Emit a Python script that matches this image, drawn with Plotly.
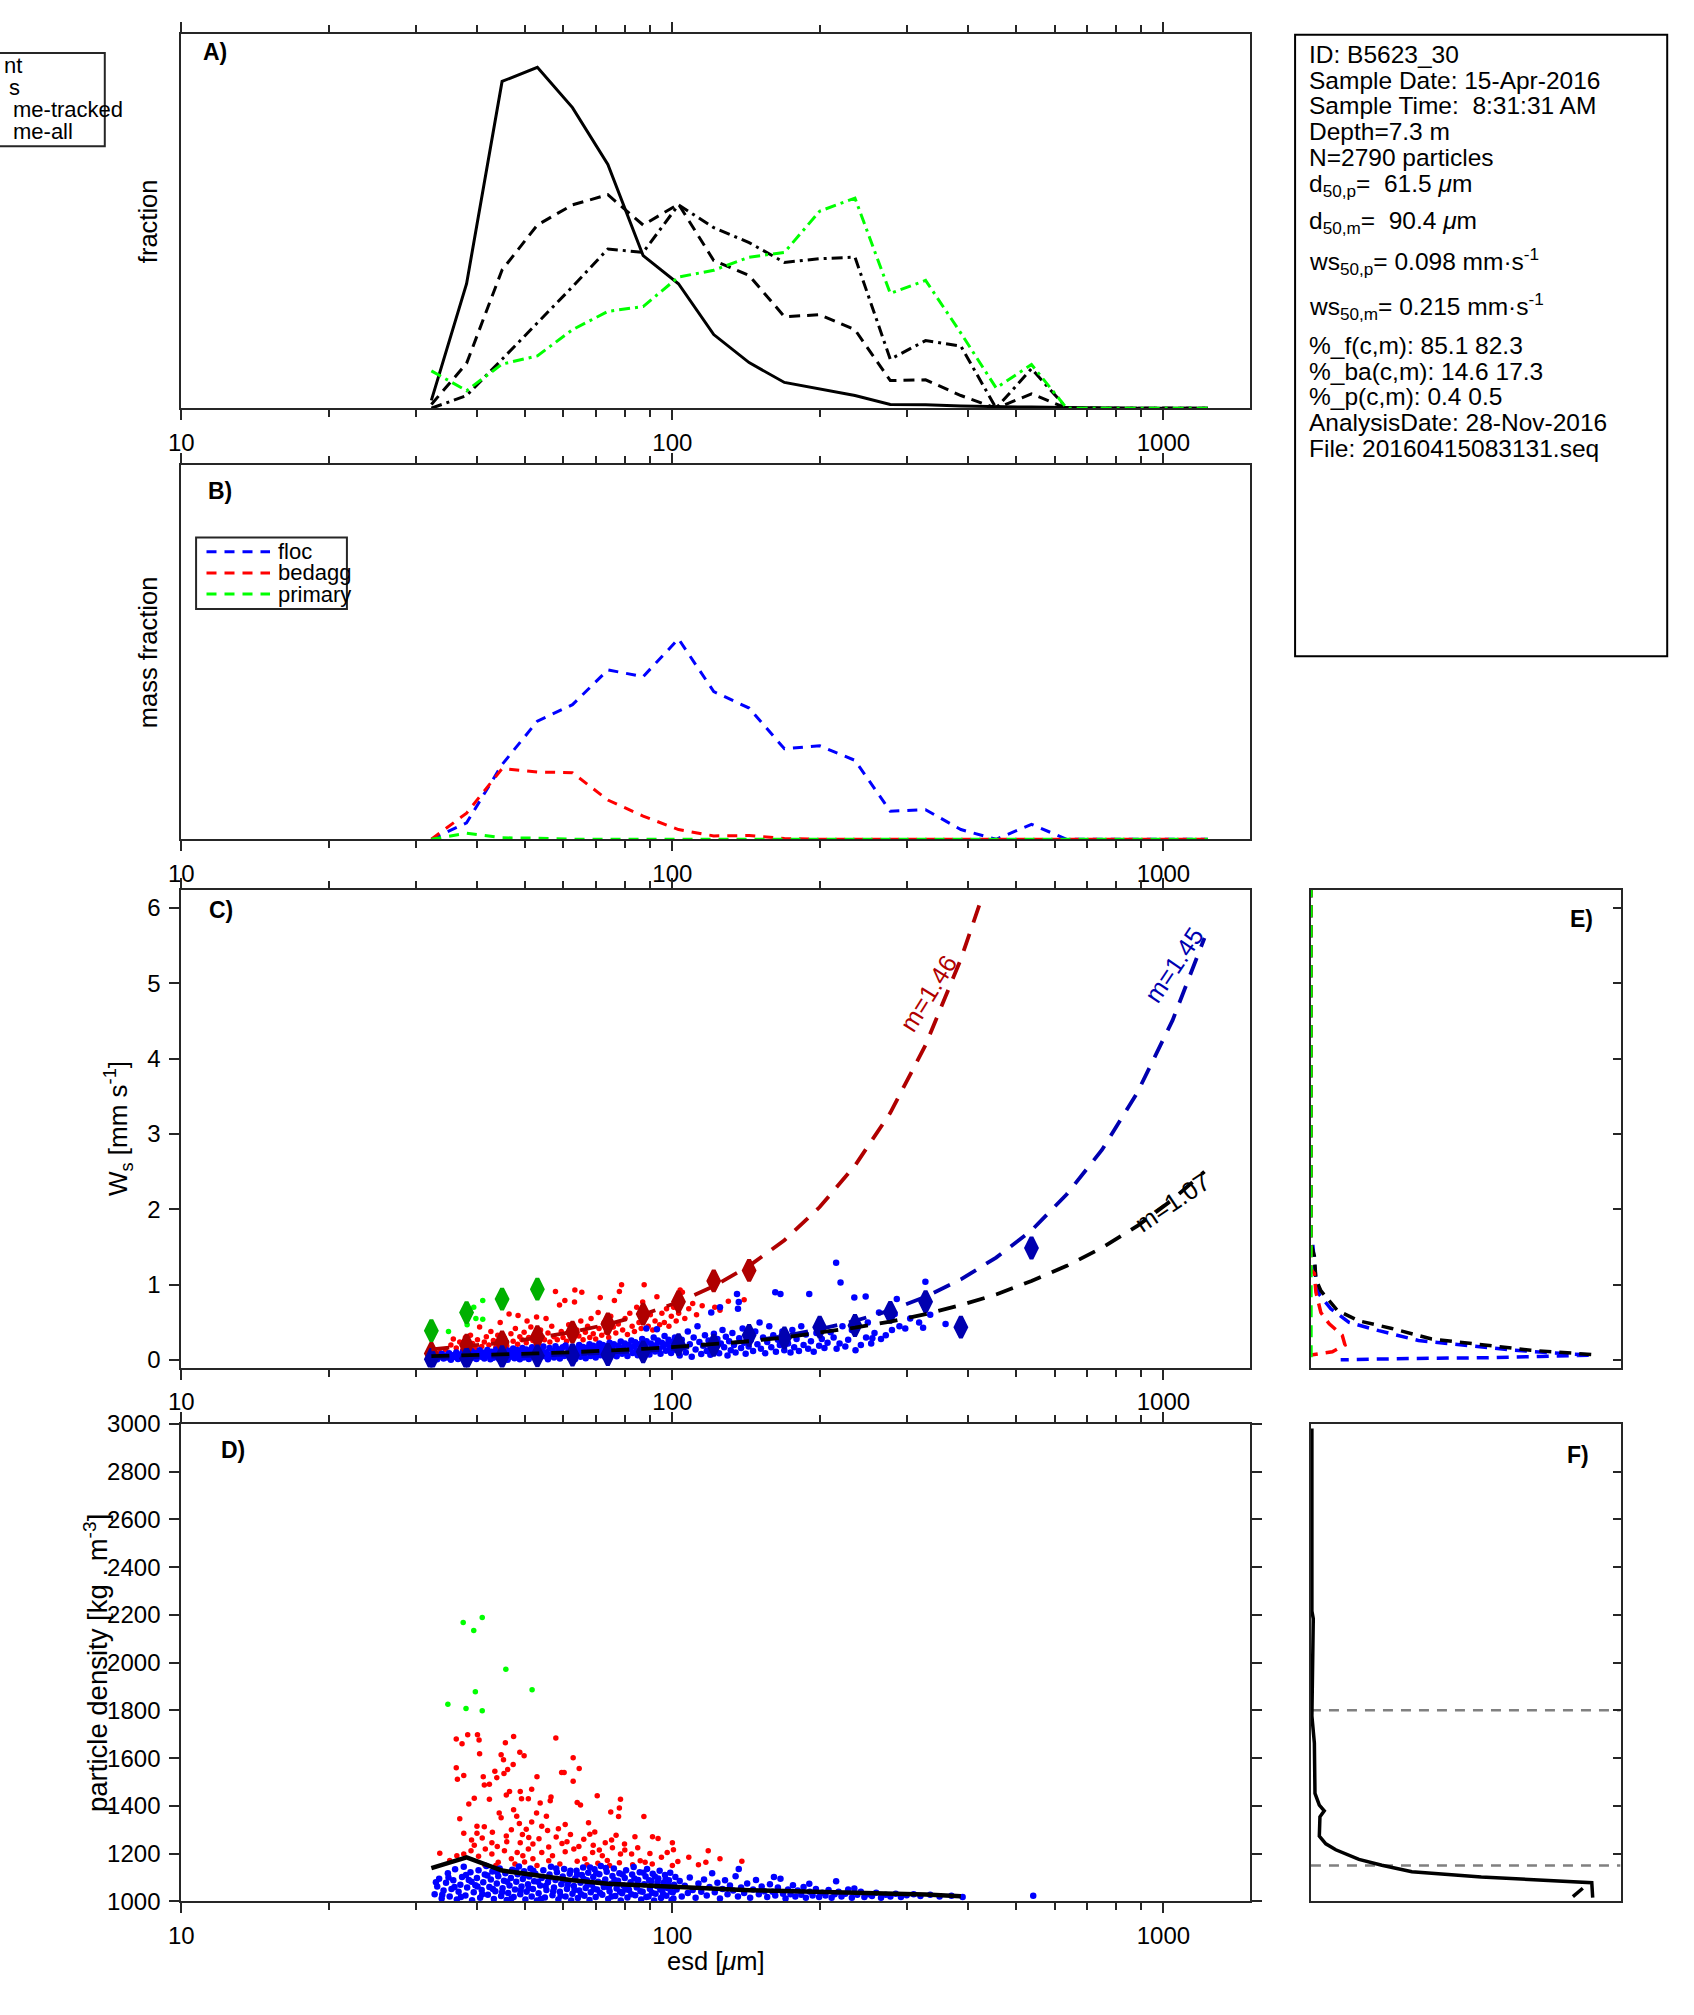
import math
import plotly.graph_objects as go

# ======================= DATA =======================
esd_bins = [32.3, 38.1, 45.0, 53.1, 62.6, 73.9, 87.2, 102.9, 121.4, 143.3, 169.1,
            199.5, 235.4, 277.8, 327.8, 386.8, 456.4, 538.6, 635.5, 749.9, 884.9, 1044.0, 1232.0]

# Panel A (fraction, relative units)
frac_count = [0.021, 0.333, 0.874, 0.912, 0.804, 0.652, 0.408, 0.333, 0.197, 0.122, 0.069,
              0.052, 0.034, 0.010, 0.0095, 0.006, 0.004, 0.003, 0.002, 0, 0, 0, 0]
frac_area = [0.01, 0.12, 0.37, 0.49, 0.544, 0.571, 0.49, 0.546, 0.395, 0.355, 0.245,
             0.25, 0.21, 0.074, 0.076, 0.034, 0.0, 0.0385, 0, 0, 0, 0, 0]
frac_vol_tracked = [0, 0.034, 0.131, 0.228, 0.325, 0.426, 0.417, 0.544, 0.483, 0.443, 0.39,
                    0.40, 0.404, 0.131, 0.181, 0.166, 0.0, 0.106, 0, 0, 0, 0, 0]
frac_vol_all = [0.1, 0.047, 0.118, 0.14, 0.21, 0.259, 0.272, 0.351, 0.369, 0.404, 0.417,
                0.527, 0.562, 0.307, 0.342, 0.201, 0.054, 0.117, 0, 0, 0, 0, 0]
legendA_labels = ["nt", "s", "me-tracked", "me-all"]

# Panel B (mass fraction, relative units)
mass_floc = [0, 0.044, 0.2, 0.316, 0.36, 0.453, 0.435, 0.536, 0.395, 0.351, 0.242,
             0.25, 0.211, 0.075, 0.079, 0.026, 0.0, 0.04, 0, 0, 0, 0, 0]
mass_bedagg = [0, 0.07, 0.189, 0.18, 0.178, 0.105, 0.062, 0.026, 0.009, 0.01, 0.002,
               0, 0, 0, 0, 0, 0, 0, 0, 0, 0, 0, 0]
mass_primary = [0, 0.016, 0.004, 0.003, 0, 0, 0, 0, 0, 0, 0,
                0, 0, 0, 0, 0, 0, 0, 0, 0, 0, 0, 0]
legendB_labels = ["floc", "bedagg", "primary"]

# Panel C: settling velocity (mm/s) of individual particles
c_floc_pts = [
    (32.5, 0.03), (32.9, 0.07), (33.2, 0.01), (33.6, 0.05), (33.9, 0.085), (34.2, 0.02), (34.5, 0.06),
    (34.8, 0.035), (35.1, 0.09), (35.4, 0.005), (35.7, 0.065), (36.0, 0.04), (36.3, 0.1), (36.6, 0.015),
    (36.9, 0.075), (37.2, 0.05), (37.5, 0.11), (37.8, 0.025), (38.1, 0.085), (38.4, 0.005), (38.7, 0.06),
    (39.0, 0.12), (39.3, 0.035), (39.6, 0.095), (39.9, 0.015), (40.2, 0.07), (40.5, 0.13), (40.8, 0.045),
    (41.1, 0.1), (41.4, 0.02), (41.7, 0.08), (42.0, 0.135), (42.3, 0.055), (42.6, 0.01), (42.9, 0.11),
    (43.2, 0.03), (43.5, 0.085), (43.8, 0.14), (44.1, 0.06), (44.4, 0.015), (44.7, 0.12), (45.0, 0.04),
    (45.3, 0.095), (45.6, 0.15), (45.9, 0.07), (46.2, 0.005), (46.5, 0.125), (46.8, 0.045), (47.1, 0.105),
    (47.4, 0.155), (47.7, 0.025), (48.0, 0.08), (48.3, 0.135), (48.6, 0.055), (48.9, 0.01), (49.2, 0.115),
    (49.5, 0.16), (49.8, 0.035), (50.1, 0.09), (50.4, 0.14), (50.7, 0.065), (51.0, 0.015), (51.4, 0.12),
    (51.8, 0.17), (52.2, 0.045), (52.6, 0.1), (53.0, 0.155), (53.4, 0.025), (53.8, 0.075), (54.2, 0.13),
    (54.6, 0.18), (55.0, 0.05), (55.4, 0.105), (55.8, 0.01), (56.2, 0.16), (56.6, 0.07), (57.0, 0.125),
    (57.4, 0.035), (57.8, 0.185), (58.2, 0.09), (58.6, 0.145), (59.0, 0.02), (59.4, 0.11), (59.8, 0.17),
    (60.2, 0.055), (60.6, 0.195), (61.0, 0.085), (61.4, 0.14), (61.8, 0.03), (62.2, 0.12), (62.6, 0.18),
    (63.0, 0.065), (63.4, 0.015), (63.8, 0.15), (64.2, 0.1), (64.6, 0.2), (65.0, 0.045), (65.4, 0.13),
    (65.8, 0.175), (66.2, 0.08), (66.6, 0.025), (67.0, 0.16), (67.4, 0.11), (67.8, 0.21), (68.2, 0.055),
    (68.6, 0.14), (69.0, 0.19), (69.4, 0.09), (69.8, 0.035), (70.2, 0.17), (70.6, 0.12), (71.0, 0.22),
    (71.4, 0.065), (71.8, 0.15), (72.2, 0.2), (72.6, 0.1), (73.0, 0.04), (73.5, 0.18), (74.0, 0.13),
    (74.5, 0.23), (75.0, 0.075), (75.5, 0.16), (76.0, 0.21), (76.5, 0.11), (77.0, 0.05), (77.5, 0.19),
    (78.0, 0.14), (78.5, 0.245), (79.0, 0.085), (79.5, 0.17), (80.0, 0.22), (80.5, 0.12), (81.0, 0.055),
    (81.5, 0.2), (82.0, 0.15), (82.5, 0.26), (83.0, 0.095), (83.5, 0.18), (84.0, 0.235), (84.5, 0.13),
    (85.0, 0.065), (85.6, 0.21), (86.2, 0.16), (86.8, 0.28), (87.4, 0.105), (88.0, 0.19), (88.5, 0.42),
    (88.6, 0.25), (89.2, 0.14), (89.8, 0.075), (90.4, 0.22), (91.0, 0.17), (91.6, 0.3), (92.2, 0.115),
    (92.8, 0.2), (93.0, 0.41), (93.4, 0.26), (94.0, 0.15), (94.6, 0.085), (95.2, 0.23), (95.8, 0.18),
    (96.4, 0.32), (97.0, 0.125), (97.6, 0.21), (98.2, 0.27), (98.8, 0.16), (99.4, 0.095), (100.0, 0.24),
    (100.6, 0.19), (101.2, 0.3), (101.8, 0.135), (102.4, 0.22),
    (103.5, 0.06), (104.5, 0.27), (105.5, 0.17), (106.5, 0.1), (107.5, 0.38), (108.5, 0.21), (109.5, 0.045),
    (110.5, 0.3), (111.5, 0.14), (112.5, 0.45), (113.5, 0.24), (114.5, 0.08), (115.5, 0.19), (116.5, 0.33),
    (117.5, 0.12), (118.5, 0.26), (119.5, 0.07), (120.0, 0.63), (120.5, 0.2), (121.5, 0.35), (122.5, 0.15),
    (123.5, 0.28), (124.5, 0.09), (125.0, 0.7), (125.5, 0.22), (126.5, 0.4), (127.5, 0.17), (128.5, 0.31),
    (129.5, 0.06), (130.5, 0.25), (131.5, 0.13), (132.5, 0.36), (133.5, 0.2), (134.5, 0.1), (135.4, 0.875),
    (136.0, 0.68), (136.5, 0.77), (136.8, 0.29), (138.0, 0.16), (139.0, 0.42), (140.0, 0.23), (141.0, 0.085),
    (142.0, 0.32), (143.0, 0.18), (144.5, 0.27), (146.0, 0.12), (147.5, 0.38), (149.0, 0.21), (150.5, 0.5),
    (151.5, 0.15), (153.0, 0.3), (154.5, 0.09), (156.0, 0.24), (157.5, 0.45), (159.0, 0.17), (160.5, 0.33),
    (162.0, 0.9), (162.5, 0.11), (164.0, 0.27), (165.5, 0.2), (166.0, 0.875), (167.5, 0.38), (169.0, 0.13),
    (170.5, 0.3), (172.0, 0.22), (174.0, 0.1), (175.5, 0.4), (177.0, 0.17), (179.0, 0.28), (181.0, 0.12),
    (183.0, 0.45), (185.0, 0.2), (187.0, 0.34), (189.0, 0.15), (190.0, 0.875), (191.5, 0.25), (194.0, 0.11),
    (196.5, 0.36), (199.0, 0.19), (201.5, 0.28),
    (204.0, 0.16), (207.0, 0.23), (210.0, 0.37), (213.0, 0.3), (215.5, 1.29), (216.0, 0.15), (219.0, 0.22),
    (220.0, 1.03), (222.0, 0.45), (225.0, 0.18), (228.0, 0.27), (232.0, 0.4), (234.7, 0.83), (236.0, 0.13),
    (238.0, 0.46), (242.0, 0.2), (247.5, 0.845), (248.0, 0.3), (250.0, 0.5), (254.0, 0.22), (255.4, 0.29),
    (258.0, 0.36), (263.5, 0.63), (266.0, 0.28), (272.0, 0.33), (280.0, 0.4), (283.6, 0.61), (286.4, 0.81),
    (290.0, 0.45), (298.0, 0.42), (305.0, 0.55), (318.0, 0.5), (324.0, 0.43), (327.5, 1.04), (335.0, 0.6),
    (360.0, 0.48), (390.0, 0.44), (543.0, 1.49),
]
c_bedagg_pts = [
    (33.6, 0.10), (34.5, 0.14), (35.4, 0.2), (35.8, 0.28), (36.3, 0.16), (36.9, 0.24), (37.4, 0.13),
    (37.9, 0.3), (38.3, 0.19), (38.8, 0.33), (39.2, 0.22), (39.7, 0.15), (40.1, 0.27), (40.5, 0.44),
    (40.9, 0.18), (41.4, 0.24), (41.8, 0.31), (42.3, 0.2), (42.7, 0.38), (43.2, 0.26), (43.7, 0.17),
    (44.1, 0.33), (44.6, 0.5), (45.0, 0.22), (45.5, 0.29), (46.0, 0.19), (46.5, 0.61), (46.9, 0.35),
    (47.4, 0.25), (47.9, 0.42), (48.4, 0.21), (48.5, 0.59), (48.9, 0.31), (49.4, 0.27), (49.9, 0.37),
    (50.4, 0.23), (50.6, 0.52), (51.0, 0.3), (51.5, 0.44), (52.0, 0.26), (52.5, 0.34), (52.9, 0.57),
    (53.4, 0.22), (53.9, 0.4), (54.4, 0.3), (54.9, 0.27), (55.3, 0.55), (55.8, 0.36), (56.3, 0.24),
    (56.8, 0.45), (57.4, 0.31), (57.8, 0.91), (58.3, 0.27), (58.9, 0.73), (59.4, 0.38), (59.9, 0.3),
    (60.4, 0.79), (60.9, 0.25), (61.5, 0.47), (62.1, 0.34), (62.7, 0.29), (63.2, 0.77), (63.3, 0.93),
    (63.9, 0.4), (64.5, 0.32), (65.1, 0.52), (65.4, 0.9), (65.8, 0.27), (66.5, 0.37), (67.2, 0.45),
    (67.9, 0.3), (68.3, 0.55), (69.0, 0.35), (69.8, 0.28), (70.6, 0.63), (70.9, 0.42), (71.3, 0.83),
    (71.8, 0.33), (72.6, 0.5), (73.4, 0.37), (74.2, 0.3), (74.9, 0.58), (75.8, 0.44), (76.2, 0.79),
    (76.7, 0.36), (77.6, 0.48), (78.0, 0.91), (78.8, 1.0), (79.2, 0.4), (80.1, 0.55), (81.0, 0.34),
    (81.9, 0.62), (82.8, 0.45), (83.7, 0.38), (84.6, 0.7), (85.5, 0.5), (86.4, 0.42), (87.0, 0.77),
    (87.6, 1.0), (88.3, 0.56), (89.3, 0.45), (90.2, 0.6), (91.2, 0.4), (92.2, 0.52), (93.0, 0.84),
    (94.2, 0.47), (95.2, 0.62), (96.3, 0.5), (97.3, 0.68), (98.4, 0.45), (99.5, 0.58), (100.6, 0.7),
    (101.8, 0.52), (103.0, 0.62), (103.7, 0.93), (104.8, 0.9), (106.0, 0.55), (108.0, 0.68), (110.0, 0.75),
    (112.0, 0.6), (115.0, 0.72), (119.3, 1.05), (122.0, 0.7), (125.0, 0.66), (130.0, 0.78), (140.0, 0.8),
]
c_primary_esd = [35.0, 38.2, 39.4, 39.8, 41.1, 41.1, 45.8]
c_primary_ws = [0.38, 0.47, 0.70, 0.55, 0.79, 0.54, 0.80]

# Panel C bin means (diamonds)
mean_primary_esd = [32.3, 38.1, 45.0, 53.1]
mean_primary_ws = [0.39, 0.63, 0.81, 0.94]
mean_bedagg_esd = [32.3, 38.1, 45.0, 53.1, 62.6, 73.9, 87.2, 102.9, 121.4, 143.3]
mean_bedagg_ws = [0.088, 0.197, 0.24, 0.31, 0.37, 0.48, 0.61, 0.775, 1.05, 1.19]
mean_floc_esd = [32.3, 38.1, 45.0, 53.1, 62.6, 73.9, 87.2, 102.9, 121.4, 143.3, 169.1,
                 199.5, 235.4, 277.8, 327.8, 386.8, 538.6]
mean_floc_ws = [0.01, 0.022, 0.044, 0.057, 0.065, 0.074, 0.109, 0.205, 0.197, 0.328, 0.293,
                0.437, 0.459, 0.634, 0.774, 0.437, 1.487]

# Panel C fitted curves
fit_bedagg_esd = [32.3, 38.1, 45.0, 53.1, 62.6, 73.9, 87.2, 102.9, 121.4, 143.3, 169.1,
                  199.5, 235.4, 277.8, 327.8, 386.8, 424.0]
fit_bedagg_ws = [0.142, 0.181, 0.23, 0.293, 0.373, 0.475, 0.605, 0.77, 0.98, 1.25, 1.59,
                 2.03, 2.58, 3.28, 4.18, 5.32, 6.08]
fit_floc_esd = esd_bins[:22] + [1212.0]
fit_floc_ws = [0.029, 0.037, 0.047, 0.06, 0.076, 0.096, 0.122, 0.155, 0.197, 0.25, 0.32,
               0.41, 0.52, 0.66, 0.84, 1.07, 1.36, 1.72, 2.2, 2.79, 3.55, 4.51, 5.6]
fit_all_esd = esd_bins[:22] + [1212.0]
fit_all_ws = [0.052, 0.062, 0.074, 0.088, 0.105, 0.125, 0.149, 0.178, 0.21, 0.25, 0.30,
              0.36, 0.43, 0.51, 0.61, 0.73, 0.87, 1.05, 1.25, 1.49, 1.78, 2.13, 2.5]
fit_labels = ["m=1.46", "m=1.45", "m=1.07"]
fit_label_esd = [332.0, 1050.0, 1043.0]
fit_label_ws = [4.87, 5.24, 2.10]

# Panel D: particle density (kg/m3) of individual particles
d_floc_pts = [
    (32.8, 1030), (33.2, 1062), (33.5, 1095), (33.9, 1012), (34.2, 1045), (34.6, 1078), (34.9, 1118),
    (35.2, 1020), (35.5, 1052), (35.8, 1088), (36.1, 1135), (36.4, 1008), (36.7, 1040), (37.0, 1070),
    (37.3, 1102), (37.6, 1145), (37.9, 1025), (38.2, 1058), (38.5, 1090), (38.8, 1122), (39.1, 1005),
    (39.4, 1038), (39.7, 1068), (40.0, 1098), (40.3, 1130), (40.6, 1015), (40.9, 1048), (41.2, 1080),
    (41.5, 1112), (41.8, 1148), (42.1, 1028), (42.4, 1060), (42.7, 1092), (43.0, 1125), (43.3, 1010),
    (43.6, 1042), (43.9, 1075), (44.2, 1105), (44.5, 1138), (44.8, 1022), (45.1, 1055), (45.4, 1086),
    (45.7, 1118), (46.0, 1006), (46.3, 1035), (46.6, 1066), (46.9, 1098), (47.2, 1132), (47.5, 1018),
    (47.8, 1050), (48.1, 1082), (48.4, 1114), (48.7, 1146), (49.0, 1030), (49.3, 1062), (49.6, 1094),
    (49.9, 1126), (50.2, 1008), (50.5, 1040), (50.8, 1072), (51.1, 1104), (51.4, 1138), (51.7, 1020),
    (52.0, 1052), (52.3, 1084), (52.6, 1116), (53.0, 1004), (53.4, 1034), (53.8, 1066), (54.2, 1098),
    (54.6, 1130), (55.0, 1016), (55.4, 1048), (55.8, 1080), (56.2, 1112), (56.6, 1145), (57.0, 1026),
    (57.4, 1058), (57.8, 1090), (58.2, 1122), (58.6, 1008), (59.0, 1040), (59.4, 1072), (59.8, 1104),
    (60.2, 1136), (60.6, 1020), (61.0, 1052), (61.4, 1084), (61.8, 1116), (62.2, 1004), (62.6, 1032),
    (63.0, 1064), (63.4, 1096), (63.8, 1128), (64.2, 1014), (64.6, 1046), (65.0, 1078), (65.4, 1110),
    (65.8, 1142), (66.2, 1024), (66.6, 1056), (67.0, 1088), (67.4, 1120), (67.8, 1006), (68.2, 1038),
    (68.6, 1070), (69.0, 1102), (69.4, 1134), (69.8, 1018), (70.2, 1050), (70.6, 1082), (71.0, 1114),
    (71.5, 1148), (72.0, 1028), (72.5, 1060), (73.0, 1092), (73.5, 1124), (74.0, 1010), (74.5, 1042),
    (75.0, 1074), (75.5, 1106), (76.0, 1138), (76.5, 1022), (77.0, 1054), (77.5, 1086), (78.0, 1118),
    (78.5, 1004), (79.0, 1034), (79.5, 1066), (80.0, 1098), (80.5, 1130), (81.0, 1016), (81.6, 1048),
    (82.2, 1080), (82.8, 1112), (83.4, 1144), (84.0, 1026), (84.6, 1058), (85.2, 1090), (85.8, 1122),
    (86.4, 1008), (87.0, 1040), (87.6, 1072), (88.2, 1104), (88.8, 1136), (89.4, 1020), (90.0, 1052),
    (90.6, 1084), (91.2, 1116), (91.8, 1004), (92.4, 1032), (93.0, 1064), (93.6, 1096), (94.2, 1128),
    (94.8, 1014), (95.4, 1046), (96.0, 1078), (96.6, 1110), (97.2, 1024), (97.8, 1056), (98.4, 1088),
    (99.0, 1120), (99.6, 1006), (100.2, 1038), (100.8, 1070), (101.4, 1102),
    (33.0, 1080), (34.0, 1028), (35.0, 1100), (36.0, 1060), (37.1, 1018), (38.0, 1110), (39.0, 1082),
    (40.1, 1062), (41.0, 1030), (42.0, 1108), (43.1, 1052), (44.0, 1122), (45.0, 1038), (46.1, 1082),
    (47.0, 1012), (48.0, 1128), (49.1, 1046), (50.0, 1110), (51.0, 1056), (52.1, 1128), (53.2, 1082),
    (54.0, 1010), (55.2, 1064), (56.0, 1096), (57.2, 1042), (58.0, 1138), (59.2, 1024), (60.0, 1088),
    (61.2, 1068), (62.0, 1128), (63.2, 1048), (64.0, 1112), (65.2, 1030), (66.0, 1094), (67.2, 1070),
    (68.0, 1142), (69.2, 1052), (70.0, 1118), (71.2, 1036), (72.2, 1076), (73.2, 1140), (74.2, 1058),
    (75.2, 1020), (76.2, 1090), (77.2, 1070), (78.2, 1040), (79.2, 1112), (80.2, 1050), (81.3, 1064),
    (82.5, 1030), (83.7, 1096), (84.9, 1074), (86.1, 1042), (87.3, 1120), (88.5, 1018), (89.7, 1088),
    (90.9, 1036), (92.1, 1104), (93.3, 1080), (94.5, 1050), (95.7, 1030), (96.9, 1094), (98.1, 1068),
    (99.3, 1040), (100.5, 1012),
    (102.0, 1050), (103.5, 1085), (104.5, 1020), (106.0, 1065), (107.5, 1035), (108.5, 1100), (110.0, 1048),
    (111.5, 1015), (113.0, 1075), (114.5, 1040), (116.0, 1092), (117.5, 1025), (119.0, 1060), (120.5, 1118),
    (122.0, 1038), (123.5, 1078), (125.0, 1012), (126.5, 1052), (128.0, 1088), (129.5, 1030), (131.0, 1066),
    (133.0, 1045), (134.5, 1105), (136.0, 1020), (136.5, 1136), (138.0, 1058), (140.0, 1035), (142.0, 1075),
    (144.0, 1015), (146.0, 1050), (148.0, 1090), (150.0, 1030), (152.0, 1062), (154.0, 1042), (156.0, 1018),
    (158.0, 1072), (160.0, 1040), (161.0, 1102), (162.0, 1025), (164.0, 1058), (166.0, 1095), (168.0, 1032),
    (170.0, 1012), (172.0, 1050), (174.0, 1030), (176.0, 1068), (178.0, 1020), (180.0, 1045), (183.0, 1028),
    (185.0, 1060), (187.0, 1015), (190.0, 1074), (190.5, 1040), (193.0, 1025), (196.0, 1052), (199.0, 1018),
    (202.0, 1036), (205.0, 1025), (208.0, 1048), (211.0, 1015), (214.0, 1030), (215.5, 1084), (218.0, 1040),
    (221.0, 1020), (225.0, 1032), (228.0, 1050), (232.0, 1015), (234.7, 1054), (238.0, 1028), (242.0, 1040),
    (246.0, 1018), (250.0, 1030), (255.0, 1022), (260.0, 1036), (266.0, 1015), (272.0, 1028), (278.0, 1020),
    (285.0, 1032), (292.0, 1018), (300.0, 1026), (310.0, 1030), (320.0, 1022), (335.0, 1028), (350.0, 1020),
    (370.0, 1024), (390.0, 1018), (543.0, 1023),
]
d_bedagg_esd = [33.6, 36.3, 37.3, 38.3, 40.1, 40.4, 47.5, 45.7, 57.9, 36.3, 37.6, 36.5, 40.5, 44.8, 45.3,
                48.9, 49.9, 47.4, 46.2, 43.5, 43.9, 41.2, 45.4, 53.0, 62.8, 64.6, 59.5, 60.2, 62.8, 38.5,
                39.5, 42.4, 41.4, 42.4, 45.9, 46.6, 49.0, 49.3, 50.9, 51.7, 53.8, 56.6, 56.4, 64.0, 65.0,
                70.3, 78.4, 78.0, 77.7, 74.9, 87.5, 36.9, 37.6, 39.0, 40.0, 40.0, 41.4, 44.4, 44.8, 47.5,
                48.2, 48.8, 50.4, 51.7, 52.9, 54.2, 55.4, 55.7, 58.6, 59.6, 60.5, 67.5, 67.9, 69.5, 75.2,
                76.8, 79.9, 83.9, 91.1, 93.5, 100.0, 100.5, 97.6, 118.3, 102.6, 138.5, 88.0, 82.6, 78.4, 72.0,
                73.7, 66.3, 68.8, 63.0, 60.5, 57.0, 54.2, 52.0, 50.9, 49.6, 48.3, 47.0, 45.5, 44.2, 42.9,
                41.6, 40.3, 38.9, 37.6, 36.4, 35.2, 49.0, 42.9, 45.9, 51.0, 43.7, 47.8, 53.0, 59.0, 67.0,
                74.5, 83.0, 91.0, 100.0, 41.5, 50.0, 56.0, 64.0, 70.5, 78.0, 86.0, 113.0, 117.0, 39.5,
                41.0, 43.0, 44.0, 46.0, 47.0, 49.5, 52.0, 53.5, 56.0, 58.0, 61.0, 62.0, 64.5, 66.0, 69.0,
                71.0, 73.0, 75.5, 80.0, 85.0, 90.0, 95.0, 108.0, 125.0]
d_bedagg_rho = [1202, 1680, 1660, 1698, 1698, 1676, 1690, 1664, 1684, 1560, 1527, 1511, 1618, 1614, 1593,
                1625, 1610, 1573, 1552, 1545, 1518, 1522, 1536, 1522, 1602, 1556, 1540, 1540, 1503, 1408,
                1432, 1428, 1487, 1490, 1446, 1460, 1460, 1430, 1430, 1470, 1412, 1437, 1421, 1414, 1404,
                1442, 1428, 1391, 1355, 1374, 1355, 1346, 1285, 1257, 1315, 1285, 1313, 1370, 1350, 1384,
                1357, 1326, 1302, 1332, 1370, 1315, 1357, 1297, 1304, 1242, 1322, 1329, 1281, 1291, 1257,
                1277, 1240, 1271, 1271, 1263, 1246, 1216, 1205, 1212, 1167, 1168, 1164, 1198, 1198, 1191,
                1171, 1178, 1205, 1219, 1208, 1191, 1205, 1178, 1219, 1191, 1205, 1178, 1212, 1164, 1198,
                1219, 1189, 1212, 1198, 1191, 1171, 1246, 1246, 1274, 1267, 1150, 1157, 1150, 1157, 1153,
                1150, 1153, 1157, 1150, 1152, 1165, 1170, 1168, 1160, 1162, 1170, 1153, 1164, 1235,
                1265, 1290, 1230, 1250, 1300, 1280, 1240, 1262, 1228, 1270, 1250, 1280, 1230, 1260, 1235,
                1215, 1245, 1225, 1215, 1225, 1200, 1185, 1185, 1178]
d_primary_esd = [34.9, 37.5, 38.0, 39.4, 39.7, 41.0, 41.0, 45.8, 51.8]
d_primary_rho = [1826, 2168, 1808, 2135, 1878, 2189, 1798, 1972, 1886]
d_mean_esd = esd_bins[:16]
d_mean_rho = [1139, 1184, 1129, 1109, 1088, 1074, 1067, 1061, 1051, 1047, 1043, 1040, 1036, 1033, 1029, 1021]

# Panel E: distributions vs ws (x relative)
e_all_x = [0.0, 0.0, 0.011, 0.016, 0.032, 0.053, 0.085, 0.155, 0.261, 0.39, 0.55, 0.71, 0.907]
e_all_ws = [6.3, 1.55, 1.38, 1.07, 0.92, 0.81, 0.66, 0.52, 0.42, 0.28, 0.20, 0.13, 0.074]
e_floc_x = [0.0, 0.0, 0.006, 0.016, 0.027, 0.064, 0.123, 0.219, 0.347, 0.486, 0.656, 0.816, 0.907,
            0.74, 0.55, 0.336, 0.096]
e_floc_ws = [6.3, 1.6, 1.53, 1.07, 0.87, 0.68, 0.50, 0.39, 0.26, 0.197, 0.13, 0.087, 0.066,
             0.048, 0.03, 0.022, 0.004]
e_bedagg_x = [0.0, 0.0, 0.011, 0.016, 0.032, 0.059, 0.101, 0.11, 0.069, 0.0]
e_bedagg_ws = [6.3, 1.2, 1.15, 0.90, 0.63, 0.48, 0.33, 0.20, 0.11, 0.066]
e_primary_x = [0.0, 0.0]
e_primary_ws = [6.3, 0.0]

# Panel F: distribution vs density (x relative)
f_x = [0.003, 0.003, 0.0075, 0.005, 0.003, 0.011, 0.013, 0.027, 0.043, 0.029, 0.027, 0.048,
       0.08, 0.155, 0.229, 0.326, 0.55, 0.907, 0.91]
f_rho = [2981, 2216, 2184, 1989, 1777, 1663, 1452, 1403, 1379, 1354, 1273, 1241,
         1216, 1176, 1151, 1124, 1102, 1078, 1016]
f_stub_x = [0.846, 0.878]
f_stub_rho = [1020, 1055]
f_thresholds = [1800, 1150]

info_lines = [
    "ID: B5623_30",
    "Sample Date: 15-Apr-2016",
    "Sample Time:\u00a0 8:31:31 AM",
    "Depth=7.3 m",
    "N=2790 particles",
    "d<sub>50,p</sub>=\u00a0 61.5 <i>\u03bc</i>m",
    "d<sub>50,m</sub>=\u00a0 90.4 <i>\u03bc</i>m",
    "ws<sub>50,p</sub>= 0.098 mm\u00b7s<sup>-1</sup>",
    "ws<sub>50,m</sub>= 0.215 mm\u00b7s<sup>-1</sup>",
    "%_f(c,m): 85.1 82.3",
    "%_ba(c,m): 14.6 17.3",
    "%_p(c,m): 0.4 0.5",
    "AnalysisDate: 28-Nov-2016",
    "File: 20160415083131.seq",
]

# ======================= LAYOUT HELPERS =======================
W, H = 1694, 2015
FONT = "Liberation Sans, Arial, Helvetica, sans-serif"
AX = "#262626"


def px(v):
    return v / W


def py(v):
    return 1 - v / H


MAIN_X = [px(169.6), px(1246.5)]
SIDE_X = [px(1308), px(1620)]
A_Y = [py(399.6), py(20.6)]
B_Y = [py(836.5), py(457.5)]
C_Y = [py(1372), py(888)]
D_Y = [py(1913), py(1429)]

major_ticks = [10, 100, 1000]
minor_ticks = [20, 30, 40, 50, 60, 70, 80, 90, 200, 300, 400, 500, 600, 700, 800, 900]

c_floc_esd = [p[0] for p in c_floc_pts]
c_floc_ws = [p[1] for p in c_floc_pts]
c_bedagg_esd = [p[0] for p in c_bedagg_pts]
c_bedagg_ws = [p[1] for p in c_bedagg_pts]
d_floc_esd = [p[0] for p in d_floc_pts]
d_floc_rho = [p[1] for p in d_floc_pts]

fig = go.Figure()


def line(x, y, xa, ya, color, width, dash="solid"):
    fig.add_trace(go.Scatter(x=x, y=y, mode="lines", xaxis=xa, yaxis=ya, showlegend=False,
                             line=dict(color=color, width=width, dash=dash), hoverinfo="skip"))


def dots(x, y, xa, ya, color, size=5.5):
    fig.add_trace(go.Scatter(x=x, y=y, mode="markers", xaxis=xa, yaxis=ya, showlegend=False,
                             marker=dict(color=color, size=size, line=dict(width=0)), hoverinfo="skip"))


def diamonds(x, y, xa, ya, color):
    fig.add_trace(go.Scatter(x=x, y=y, mode="markers", xaxis=xa, yaxis=ya, showlegend=False,
                             marker=dict(symbol="diamond-tall", color=color, size=15,
                                         line=dict(color=color, width=4)), hoverinfo="skip"))


DASH = "11px,7px"
DASHDOT = "11px,5px,3px,5px"

# ----- Panel A -----
line(esd_bins, frac_count, "x", "y", "black", 3)
line(esd_bins, frac_area, "x", "y", "black", 3, DASH)
line(esd_bins, frac_vol_tracked, "x", "y", "black", 3, DASHDOT)
line(esd_bins, frac_vol_all, "x", "y", "#00FF00", 3, DASHDOT)

# ----- Panel B -----
line(esd_bins, mass_floc, "x2", "y2", "#0000FF", 3, "10px,8px")
line(esd_bins, mass_bedagg, "x2", "y2", "#FF0000", 3, "10px,8px")
line(esd_bins, mass_primary, "x2", "y2", "#00FF00", 3, "10px,8px")

# ----- Panel C -----
dots(c_bedagg_esd, c_bedagg_ws, "x3", "y3", "#FF0000")
dots(c_floc_esd, c_floc_ws, "x3", "y3", "#0000FF", 6.5)
dots(c_primary_esd, c_primary_ws, "x3", "y3", "#00FF00")
diamonds(mean_primary_esd, mean_primary_ws, "x3", "y3", "#00B000")
diamonds(mean_bedagg_esd, mean_bedagg_ws, "x3", "y3", "#B00000")
diamonds(mean_floc_esd, mean_floc_ws, "x3", "y3", "#0000B0")
line(fit_bedagg_esd, fit_bedagg_ws, "x3", "y3", "#B00000", 3.8, "18px,12px")
line(fit_floc_esd, fit_floc_ws, "x3", "y3", "#0000B0", 3.8, "18px,12px")
line(fit_all_esd, fit_all_ws, "x3", "y3", "black", 3.8, "18px,12px")

# ----- Panel D -----
dots(d_bedagg_esd, d_bedagg_rho, "x4", "y4", "#FF0000")
dots(d_floc_esd, d_floc_rho, "x4", "y4", "#0000FF", 6.5)
dots(d_primary_esd, d_primary_rho, "x4", "y4", "#00FF00")
line(d_mean_esd, d_mean_rho, "x4", "y4", "black", 4.5)

# ----- Panel E -----
line(e_floc_x, e_floc_ws, "x5", "y5", "#0000FF", 3.5, "12px,8px")
line(e_all_x, e_all_ws, "x5", "y5", "black", 3.5, "12px,8px")
line(e_bedagg_x, e_bedagg_ws, "x5", "y5", "#FF0000", 3.5, "12px,8px")
line(e_primary_x, e_primary_ws, "x5", "y5", "#00FF00", 3.5, "12px,8px")

# ----- Panel F -----
for t in f_thresholds:
    line([0, 1], [t, t], "x6", "y6", "#808080", 2.5, "10px,8px")
line(f_x, f_rho, "x6", "y6", "black", 3.5)
line(f_stub_x, f_stub_rho, "x6", "y6", "black", 3.5)

# ======================= AXES =======================
tickfont = dict(family=FONT, size=24, color="black")


def xlog(domain, anchor):
    return dict(type="log", range=[1, math.log10(1500)], domain=domain, anchor=anchor,
                showline=True, linecolor=AX, linewidth=2, mirror="ticks",
                ticks="outside", ticklen=10, tickwidth=2, tickcolor=AX,
                tickmode="array", tickvals=major_ticks, ticktext=["10", "100", "1000"],
                minor=dict(tickmode="array", tickvals=minor_ticks, ticks="outside", ticklen=7,
                           tickwidth=1.5, tickcolor=AX),
                showgrid=False, zeroline=False, tickfont=tickfont, ticklabelstandoff=2)


def yplain(domain, anchor, rng):
    return dict(domain=domain, anchor=anchor, range=rng, showline=True, linecolor=AX, linewidth=2,
                mirror=True, ticks="", showticklabels=False, showgrid=False, zeroline=False)


def xplain(domain, anchor, rng):
    return dict(domain=domain, anchor=anchor, range=rng, showline=True, linecolor=AX, linewidth=2,
                mirror=True, ticks="", showticklabels=False, showgrid=False, zeroline=False)


C_RANGE = [-0.1, 6.235]
D_RANGE = [1000, 3000]

fig.update_layout(
    xaxis=xlog(MAIN_X, "y"),
    yaxis=yplain(A_Y, "x", [0, 1.0]),
    xaxis2=xlog(MAIN_X, "y2"),
    yaxis2=yplain(B_Y, "x2", [0, 1.0]),
    xaxis3=xlog(MAIN_X, "y3"),
    yaxis3=dict(domain=C_Y, anchor="x3", range=C_RANGE, showline=True, linecolor=AX, linewidth=2,
                mirror=True, ticks="outside", ticklen=10, tickwidth=2, tickcolor=AX,
                tickvals=[0, 1, 2, 3, 4, 5, 6], showgrid=False, zeroline=False, tickfont=tickfont,
                ticklabelstandoff=4),
    xaxis4=xlog(MAIN_X, "y4"),
    yaxis4=dict(domain=D_Y, anchor="x4", range=D_RANGE, showline=True, linecolor=AX, linewidth=2,
                mirror="ticks", ticks="outside", ticklen=10, tickwidth=2, tickcolor=AX,
                tickvals=list(range(1000, 3001, 200)), showgrid=False, zeroline=False,
                tickfont=tickfont, ticklabelstandoff=4),
    xaxis5=xplain(SIDE_X, "y5", [0, 1]),
    yaxis5=dict(domain=C_Y, anchor="x5", range=C_RANGE, side="right", showline=True, linecolor=AX,
                linewidth=2, mirror=True, ticks="inside", ticklen=8, tickwidth=2, tickcolor=AX,
                tickvals=[0, 1, 2, 3, 4, 5, 6], showticklabels=False, showgrid=False, zeroline=False),
    xaxis6=xplain(SIDE_X, "y6", [0, 1]),
    yaxis6=dict(domain=D_Y, anchor="x6", range=D_RANGE, side="right", showline=True, linecolor=AX,
                linewidth=2, mirror=True, ticks="inside", ticklen=8, tickwidth=2, tickcolor=AX,
                tickvals=list(range(1200, 3000, 200)), showticklabels=False, showgrid=False,
                zeroline=False),
)

# ======================= ANNOTATIONS / SHAPES =======================
ann = []
shapes = []


def text(xpx, ypx, s, size=23, bold=False, angle=0, xanchor="center", yanchor="middle", color="black"):
    if bold:
        s = "<b>" + s + "</b>"
    ann.append(dict(x=px(xpx), y=py(ypx), xref="paper", yref="paper", text=s, showarrow=False,
                    textangle=angle, xanchor=xanchor, yanchor=yanchor,
                    font=dict(family=FONT, size=size, color=color)))


# panel labels
for lab, xx, yy in [("A)", 204, 39), ("B)", 209, 483), ("C)", 210, 908), ("D)", 222, 1455),
                    ("E)", 1581, 917), ("F)", 1577, 1461)]:
    text(xx, yy, lab, size=23, bold=True)

# axis titles
text(136, 210, "fraction", size=25.5, angle=-90)
text(136, 647, "mass fraction", size=25.5, angle=-90)
text(106, 1130, "W<sub>s</sub> [mm s<sup>-1</sup>]", size=26, angle=-90)
text(84, 1671, "particle density [kg . m<sup>-3</sup>]", size=27.5, angle=-90)
text(708, 1973, "esd [<i>\u03bc</i>m]", size=25.5)

# fit labels (data coordinates)
fit_colors = ["#B00000", "#0000B0", "black"]
fit_angles = [-58, -56, -34]
for lab, xe, yw, col, ang in zip(fit_labels, fit_label_esd, fit_label_ws, fit_colors, fit_angles):
    ann.append(dict(x=math.log10(xe), y=yw, xref="x3", yref="y3", text=lab, showarrow=False,
                    textangle=ang, font=dict(family=FONT, size=25, color=col)))

# Panel A legend (clipped at page edge)
shapes.append(dict(type="rect", xref="paper", yref="paper", x0=px(-20), x1=px(92.5),
                   y0=py(134), y1=py(39.5), line=dict(color=AX, width=2), fillcolor="rgba(0,0,0,0)"))
legA_right = [11, 9, None, None]
legA_y = [52, 75, 97, 119]
for lab, r, yy in zip(legendA_labels, legA_right, legA_y):
    if r is not None:
        text(r, yy, lab, size=22, xanchor="right")
    else:
        text(-2, yy, lab, size=22, xanchor="left")

# Panel B legend
shapes.append(dict(type="rect", xref="paper", yref="paper", x0=px(184.5), x1=px(336.5),
                   y0=py(603), y1=py(530.5), line=dict(color=AX, width=2), fillcolor="white"))
legB_colors = ["#0000FF", "#FF0000", "#00FF00"]
legB_y = [545, 566.5, 588]
for lab, col, yy in zip(legendB_labels, legB_colors, legB_y):
    shapes.append(dict(type="line", xref="paper", yref="paper", x0=px(195), x1=px(259),
                       y0=py(yy), y1=py(yy), line=dict(color=col, width=3, dash="10px,8px")))
    text(265.5, yy, lab, size=22, xanchor="left")

# info box
shapes.append(dict(type="rect", xref="paper", yref="paper", x0=px(1292), x1=px(1667),
                   y0=py(651), y1=py(21), line=dict(color="black", width=2), fillcolor="rgba(0,0,0,0)"))
info_y = [41.5, 67.2, 92.8, 119.5, 145.2, 174, 211, 251, 296, 335.7, 362, 388, 414, 440]
for s, yy in zip(info_lines, info_y):
    text(1304, yy, s, size=24.5, xanchor="left")

fig.update_layout(
    width=W, height=H, margin=dict(l=0, r=0, t=0, b=0),
    paper_bgcolor="white", plot_bgcolor="white",
    annotations=ann, shapes=shapes, showlegend=False,
    font=dict(family=FONT, size=23, color="black"),
)

post = ("document.documentElement.style.margin='0px';document.body.style.margin='0px';"
        "document.body.style.padding='0px';document.documentElement.style.overflow='hidden';"
        "document.body.style.overflow='hidden';"
        "var gd=document.getElementById('{plot_id}');gd.style.position='absolute';"
        "gd.style.left='0px';gd.style.top='0px';")
fig.write_html("out.html", config={"displayModeBar": False}, post_script=post)
